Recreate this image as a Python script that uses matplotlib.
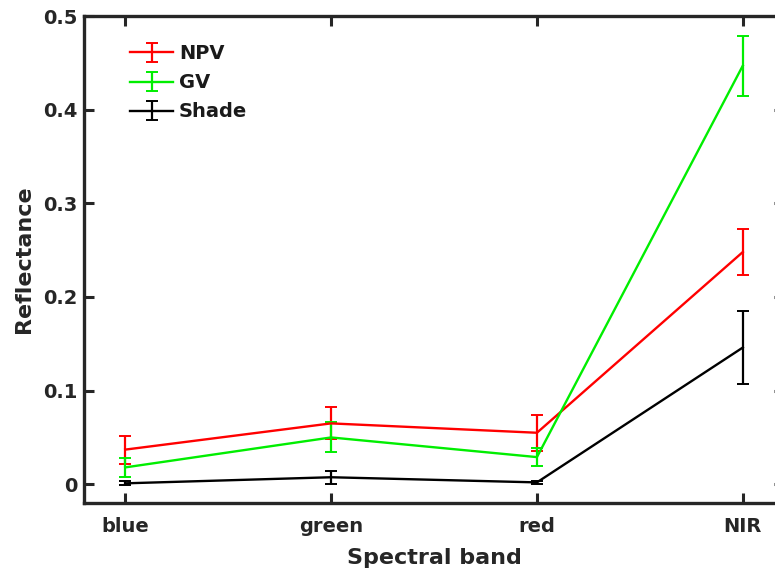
import matplotlib
matplotlib.use("Agg")
import matplotlib.pyplot as plt

bands = ["blue", "green", "red", "NIR"]
npv = [0.037, 0.065, 0.055, 0.248]
npv_err = [0.015, 0.017, 0.019, 0.025]
gv = [0.018, 0.050, 0.029, 0.447]
gv_err = [0.010, 0.016, 0.010, 0.032]
shade = [0.001, 0.0075, 0.002, 0.146]
shade_err = [0.002, 0.007, 0.002, 0.039]
yticks = [0, 0.1, 0.2, 0.3, 0.4, 0.5]
ytick_labels = ["0", "0.1", "0.2", "0.3", "0.4", "0.5"]

plt.rcParams['font.family'] = ['DejaVu Sans']
plt.rcParams['font.weight'] = 'bold'

fig = plt.figure(figsize=(7.75, 5.73), dpi=100)
W, H = 775, 573
left, right, top, bottom = 84, 784, 16, 503
ax = fig.add_axes([left / W, 1 - bottom / H, (right - left) / W, (bottom - top) / H])

x = list(range(1, len(bands) + 1))
for vals, errs, col, lab in [(npv, npv_err, '#ff0000', 'NPV'),
                             (gv, gv_err, '#00ee00', 'GV'),
                             (shade, shade_err, '#000000', 'Shade')]:
    ax.errorbar(x, vals, yerr=errs, color=col, lw=1.7, elinewidth=1.6,
                capsize=4.5, capthick=1.4, label=lab)

ax.set_xlim(0.8, 4.2)
ax.set_ylim(-0.02, 0.5)
ax.set_xticks(x)
ax.set_xticklabels(bands)
ax.set_yticks(yticks)
ax.set_yticklabels(ytick_labels)
ax.tick_params(direction='in', length=7, width=2.2, colors='#262626',
               labelsize=14, top=True, right=True)
ax.tick_params(axis='x', pad=10)
ax.tick_params(axis='y', pad=5)
for lab in ax.get_xticklabels() + ax.get_yticklabels():
    lab.set_fontweight('bold')
    lab.set_color('#262626')
for s in ax.spines.values():
    s.set_linewidth(2.4)
    s.set_color('#262626')

ax.set_xlabel("Spectral band", fontsize=16, fontweight='bold', color='#262626', labelpad=9)
ax.set_ylabel("Reflectance", fontsize=16, fontweight='bold', color='#262626', labelpad=6)

leg = ax.legend(loc='upper left', bbox_to_anchor=(0.066, 0.942), frameon=False,
                fontsize=14, handlelength=2.2, handletextpad=0.3, labelspacing=0.52,
                borderaxespad=0, borderpad=0)
for t in leg.get_texts():
    t.set_fontweight('bold')
    t.set_color('#1a1a1a')

fig.savefig("out.png", dpi=100)
